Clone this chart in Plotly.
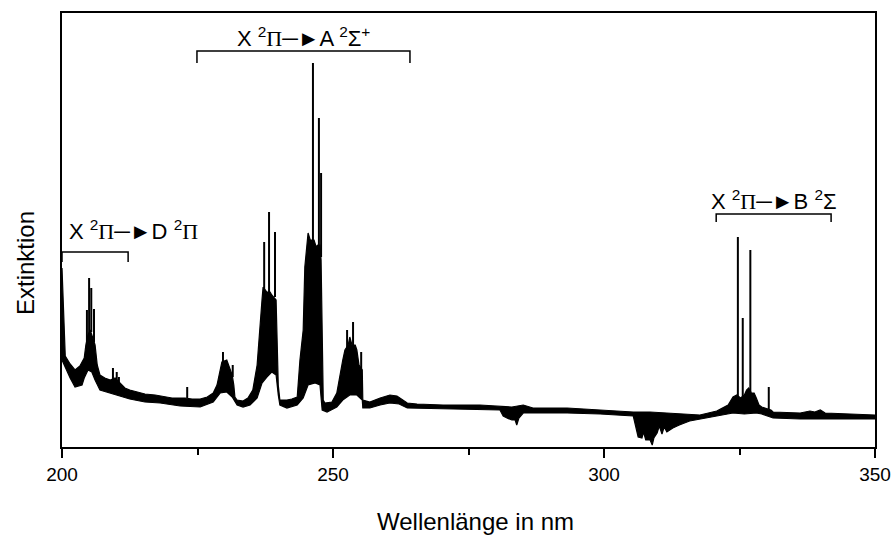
import plotly.graph_objects as go

# Absorption spectrum (extinction, arbitrary units) vs. wavelength in nm.
# The trace is a dense, noisy band, so it is stored as an upper and a lower envelope.
upper_nm = [200.0, 200.2, 200.4, 200.6, 201.5, 202.4, 203.3, 204.1, 204.4, 204.8, 205.2, 205.5,
            206.1, 206.5, 207.0, 207.9, 208.9, 209.8, 210.7, 211.6, 212.5, 214.0, 215.3, 217.2,
            219.0, 220.3, 221.8, 222.7, 224.0, 225.5, 226.8, 227.9, 228.6, 229.2, 229.5, 230.4,
            231.0, 231.4, 231.7, 231.9, 232.3, 233.4, 234.3, 235.2, 236.0, 236.5, 236.9, 237.1,
            237.5, 237.8, 238.4, 238.7, 239.5, 239.7, 239.9, 240.2, 241.5, 242.4, 243.4, 243.9,
            244.5, 244.8, 245.4, 245.8, 246.1, 246.5, 246.9, 247.2, 247.6, 247.8, 248.0, 248.2,
            248.5, 249.8, 250.7, 251.3, 251.8, 252.2, 252.8, 253.1, 253.5, 254.1, 254.4, 254.8,
            255.4, 255.5, 256.8, 258.7, 260.5, 261.8, 262.9, 263.7, 265.5, 270.3, 277.1, 280.8,
            283.0, 285.1, 286.9, 293.2, 299.3, 305.4, 308.5, 313.9, 317.7, 320.8, 322.9, 323.8,
            324.5, 325.2, 325.9, 326.3, 326.7, 327.2, 327.7, 328.1, 328.6, 329.1, 330.8, 331.2,
            336.2, 338.0, 338.9, 339.9, 340.8, 345.4, 350.0]
upper_ext = [179, 147, 102, 91, 83, 77, 81, 89, 102, 112, 117, 112,
             102, 82, 72, 69, 67, 69, 64, 59, 57, 55, 53, 52,
             50, 49, 49, 49, 48, 48, 50, 54, 62, 80, 85, 87,
             79, 72, 62, 50, 47, 46, 49, 57, 82, 124, 147, 160,
             157, 155, 155, 152, 147, 97, 62, 47, 47, 48, 50, 87,
             117, 180, 214, 207, 207, 207, 200, 202, 202, 187, 117, 47,
             44, 45, 54, 74, 87, 97, 102, 110, 102, 102, 97, 82,
             77, 47, 45, 49, 52, 51, 47, 44, 43, 42, 42, 41,
             40, 42, 39, 39, 37, 35, 35, 33, 32, 36, 42, 50,
             52, 49, 52, 57, 59, 54, 54, 49, 42, 40, 37, 35,
             34, 36, 35, 37, 34, 33, 32]

lower_nm = [200.0, 200.6, 201.5, 202.4, 203.7, 204.1, 204.8, 205.5, 206.1, 207.0, 208.9, 210.7,
            212.5, 215.3, 218.1, 221.8, 225.5, 227.9, 229.2, 230.4, 231.4, 232.3, 233.4, 234.7,
            236.0, 236.9, 237.8, 238.7, 239.5, 239.9, 240.2, 241.5, 243.4, 244.5, 245.4, 246.7,
            247.6, 248.0, 248.9, 250.7, 251.8, 253.1, 254.4, 255.4, 255.5, 256.8, 258.7, 260.5,
            262.2, 263.7, 270.3, 280.8, 281.4, 282.1, 283.0, 283.6, 283.9, 284.3, 285.1, 286.9,
            293.2, 299.3, 305.4, 306.0, 306.3, 307.0, 307.3, 307.7, 308.5, 308.9, 309.2, 309.8,
            310.2, 310.7, 311.1, 311.6, 312.7, 313.9, 315.8, 317.7, 320.8, 323.8, 325.9, 328.1,
            329.1, 331.2, 336.2, 350.0]
lower_ext = [87, 79, 69, 60, 62, 69, 77, 75, 67, 57, 54, 51,
             48, 45, 44, 41, 40, 45, 54, 55, 50, 42, 40, 42,
             49, 64, 70, 75, 72, 52, 42, 39, 42, 49, 62, 64,
             62, 37, 35, 40, 47, 52, 52, 47, 39, 39, 42, 44,
             43, 39, 38, 37, 31, 29, 27, 27, 22, 29, 34, 34,
             34, 33, 31, 17, 10, 9, 15, 7, 7, 2, 9, 14,
             21, 13, 20, 15, 19, 22, 26, 28, 31, 34, 33, 34,
             33, 29, 28, 28]

# Sharp rotational lines rising out of the band: position, foot and top
line_nm = [204.6, 205.0, 205.4, 205.9, 209.4, 210.1, 210.5, 223.1, 229.7, 231.5,
           237.3, 238.2, 239.3, 246.3, 247.4, 247.8, 252.6, 253.7, 255.2,
           324.7, 325.6, 327.0, 330.4]
line_foot = [102, 112, 115, 105, 67, 67, 65, 49, 84, 70,
             155, 155, 150, 207, 202, 190, 97, 102, 77,
             50, 50, 55, 38]
line_top = [137, 169, 159, 138, 79, 75, 70, 60, 95, 82,
            205, 235, 215, 384, 329, 274, 117, 125, 95,
            210, 129, 197, 60]

# Electronic band systems: label, start and end wavelength
PI = "<span style=\"font-family:'Liberation Serif'\">Π</span>"
ARROW = "─►"
band_labels = [f"X <sup>2</sup>{PI}{ARROW}D <sup>2</sup>{PI}",
               f"X <sup>2</sup>{PI}{ARROW}A <sup>2</sup>Σ<sup>+</sup>",
               f"X <sup>2</sup>{PI}{ARROW}B <sup>2</sup>Σ"]
band_start = [200.0, 224.9, 320.7]
band_end = [212.2, 264.2, 341.9]

x_ticks = [200, 250, 300, 350]

fig = go.Figure()

# Noisy band as a filled outline
fig.add_trace(go.Scatter(
    x=upper_nm + lower_nm[::-1],
    y=upper_ext + lower_ext[::-1],
    mode="lines", fill="toself", fillcolor="black",
    line=dict(color="black", width=1.2),
    hoverinfo="skip", showlegend=False,
))

# Narrow lines
lx, ly = [], []
for x, f, t in zip(line_nm, line_foot, line_top):
    lx += [x, x, None]
    ly += [f, t, None]
fig.add_trace(go.Scatter(x=lx, y=ly, mode="lines",
                         line=dict(color="black", width=2),
                         hoverinfo="skip", showlegend=False))

# Brackets and labels for the band systems
bracket_y = [195, 396, 233]
bracket_drop = [10, 12, 8]
label_y = [217, 410, 247]
label_x = [200.9, None, None]
for lab, a, b, by, dr, ty, tx in zip(band_labels, band_start, band_end,
                                       bracket_y, bracket_drop, label_y, label_x):
    fig.add_trace(go.Scatter(x=[a, a, b, b], y=[by - dr, by, by, by - dr], mode="lines",
                             line=dict(color="black", width=1.5),
                             hoverinfo="skip", showlegend=False))
    fig.add_annotation(
        x=tx if tx is not None else (a + b) / 2, y=ty, text=lab,
        xanchor="left" if tx is not None else "center", yanchor="middle",
        showarrow=False, font=dict(family="Arial", size=22, color="black"),
    )

axis_font = dict(family="Arial", size=19, color="black")
fig.update_layout(
    width=895, height=536,
    margin=dict(l=62, r=20, t=13, b=89, autoexpand=False),
    plot_bgcolor="white", paper_bgcolor="white",
    xaxis=dict(range=[200, 350], tickvals=x_ticks, ticks="outside", ticklen=9, tickwidth=1.5,
               tickcolor="black", tickfont=axis_font, automargin=False,
               minor=dict(dtick=25, tick0=200, ticks="outside", ticklen=6, tickwidth=1.5,
                          tickcolor="black"),
               showline=True, linewidth=2, linecolor="black", mirror=True,
               showgrid=False, zeroline=False),
    xaxis2=dict(range=[200, 350], overlaying="x", side="top", anchor="y", automargin=False,
                tickvals=x_ticks, ticks="inside", ticklen=10, tickwidth=1.5, tickcolor="black",
                minor=dict(dtick=25, tick0=200, ticks="inside", ticklen=6, tickwidth=1.5,
                           tickcolor="black"),
                showticklabels=False, showline=False, showgrid=False, zeroline=False),
    yaxis=dict(range=[0, 434], showticklabels=False, ticks="", showgrid=False, zeroline=False,
               automargin=False,
               showline=True, linewidth=2, linecolor="black", mirror=True),
)

fig.add_annotation(text="Wellenlänge in nm", xref="x", yref="paper", x=276.2, y=0,
                   yshift=-74, xanchor="center", yanchor="middle", showarrow=False,
                   font=dict(family="Arial", size=24, color="black"))
fig.add_annotation(text="Extinktion", xref="paper", yref="y", x=0, y=184, xshift=-37,
                   textangle=-90, xanchor="center", yanchor="middle", showarrow=False,
                   font=dict(family="Arial", size=24, color="black"))

fig.write_html("out.html")
